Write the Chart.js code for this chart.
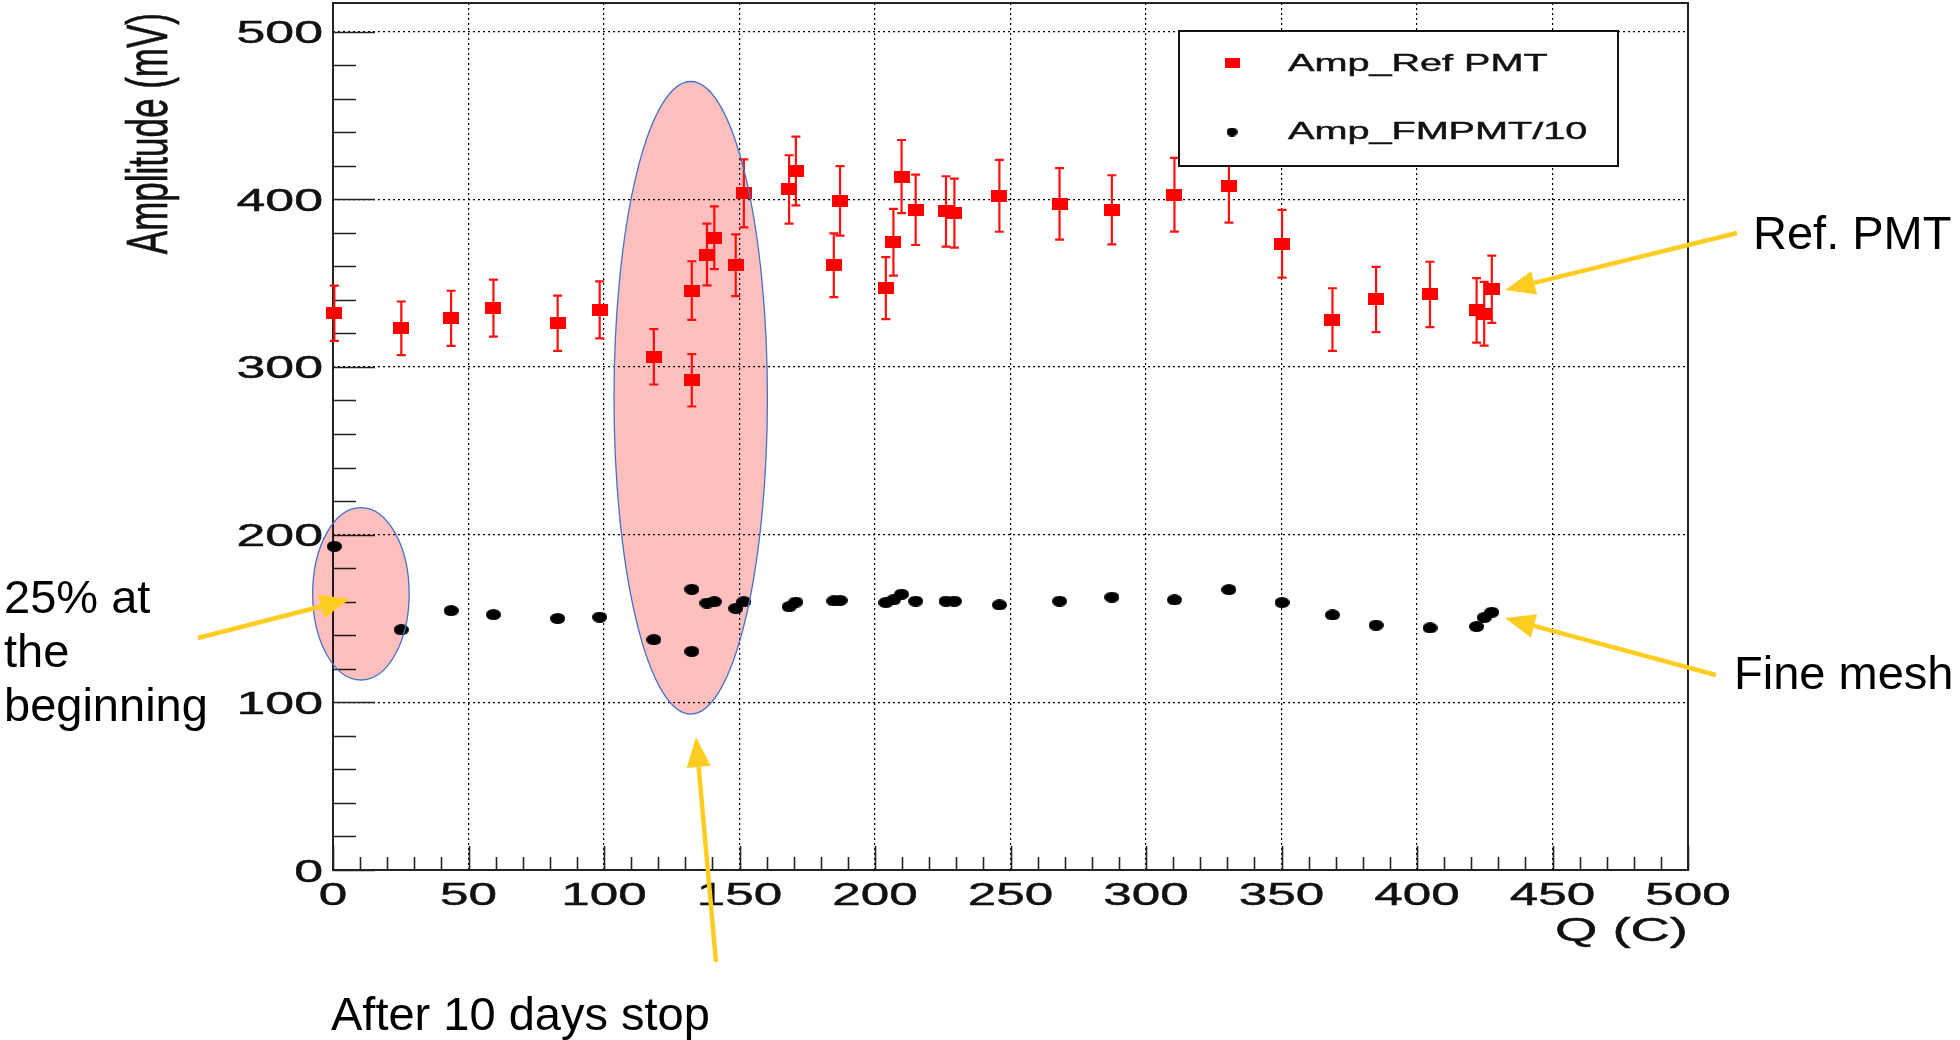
<!DOCTYPE html>
<html>
<head>
<meta charset="utf-8">
<script src="https://cdn.jsdelivr.net/npm/chart.js@4.4.1/dist/chart.umd.min.js"></script>
<style>
  html, body { margin: 0; padding: 0; background: #ffffff; }
  #wrap { width: 1960px; height: 1040px; position: relative; }
</style>
</head>
<body>
<div id="wrap"><canvas id="c" width="1960" height="1040"></canvas></div>
<script>
// ---------------- data ----------------
const charge = [0.5, 25.2, 43.6, 59.2, 82.9, 98.4, 118.4, 132.4, 132.4, 138.0, 140.7, 148.6, 151.6, 168.3, 170.8,
  184.8, 187.1, 204.0, 206.8, 209.8, 215.0, 226.2, 229.3, 245.9, 268.1, 287.4, 310.5, 330.6, 350.2, 368.8,
  384.9, 404.8, 422.0, 424.8, 427.6];
const ampRefPMT = [332, 323, 329, 335, 326, 334, 306, 292, 345.5, 367, 377, 360.6, 403.5, 405.8, 416.8,
  360.6, 399, 347, 374.3, 413.5, 393.7, 392.7, 391.7, 402, 397.2, 393.7, 402.7, 408, 373.4, 328.2,
  340.2, 343.2, 333.7, 331.7, 346.3];
const errRefPMT = [16.5, 16, 16.4, 17, 16.5, 17, 16.5, 15.6, 17.5, 18.4, 18.7, 18.4, 20.3, 20.4, 20.5,
  19, 20.7, 18.5, 19.9, 21.8, 21, 21, 20.6, 21.4, 21.3, 20.6, 22, 22, 20.2, 18.7,
  19.5, 19.5, 19.2, 19, 20];
const ampFMPMT10 = [193, 143.3, 154.7, 152.3, 150, 150.8, 137.4, 130.4, 167.4, 159.2, 160, 156, 160, 157, 159.8,
  160.5, 160.8, 159.5, 161.1, 164.5, 160.3, 160.3, 160.3, 158.1, 160.3, 162.7, 161.1, 167.2, 159.5, 152.1,
  146, 144.4, 145.2, 150.5, 153.7];
const seriesLabels = ['Amp_Ref PMT', 'Amp_FMPMT/10'];
const xTickValues = [0, 50, 100, 150, 200, 250, 300, 350, 400, 450, 500];
const yTickValues = [0, 100, 200, 300, 400, 500];
const xTitle = 'Q (C)';
const yTitle = 'Amplitude (mV)';

// highlighted regions (data coordinates)
const highlightEllipses = [
  { cx: 10.3, cy: 164.7, rx: 17.8, ry: 51.4 },
  { cx: 132.0, cy: 281.6, rx: 28.3, ry: 188.6 }
];
// slide call-outs (page pixels)
const callouts = [
  { lines: ['25% at', 'the', 'beginning'], tx: 4, ty: 613, lh: 54, from: [198, 638], to: [350, 599] },
  { lines: ['After 10 days stop'], tx: 331, ty: 1030, lh: 54, from: [716, 962], to: [696, 737] },
  { lines: ['Ref. PMT'], tx: 1753, ty: 249, lh: 54, from: [1737, 233], to: [1505, 290] },
  { lines: ['Fine mesh'], tx: 1734, ty: 689, lh: 54, from: [1716, 675], to: [1505, 618] }
];

// ---------------- helpers ----------------
const FONT = '"Liberation Sans", Arial, Helvetica, sans-serif';
function makeRect(w, h, color) {
  const c = document.createElement('canvas'); c.width = w; c.height = h;
  const g = c.getContext('2d'); g.fillStyle = color; g.fillRect(0, 0, w, h); return c;
}
function makeEllipse(w, h, color) {
  const c = document.createElement('canvas'); c.width = w; c.height = h;
  const g = c.getContext('2d'); g.fillStyle = color; g.beginPath();
  g.ellipse(w / 2, h / 2, w / 2, h / 2, 0, 0, Math.PI * 2); g.fill(); return c;
}
const redMark = makeRect(16, 12, '#ff0000');
const blackMark = makeEllipse(15, 11, '#000000');
const redLegendMark = makeRect(15, 10, '#ff0000');
const blackLegendMark = makeEllipse(11, 9, '#000000');

function sText(ctx, txt, x, y, size, sx, align, rot) {
  ctx.save();
  ctx.translate(x, y);
  ctx.scale(sx, 1);
  if (rot) ctx.rotate(-Math.PI / 2);
  ctx.font = size + 'px ' + FONT;
  ctx.textAlign = align;
  ctx.textBaseline = 'alphabetic';
  ctx.fillStyle = '#111';
  ctx.strokeStyle = '#111';
  ctx.lineWidth = 0.45;
  ctx.fillText(txt, 0, 0);
  ctx.strokeText(txt, 0, 0);
  ctx.restore();
}
function arrow(ctx, x1, y1, x2, y2) {
  const a = Math.atan2(y2 - y1, x2 - x1), L = 30, W = 12;
  const bx = x2 - L * Math.cos(a), by = y2 - L * Math.sin(a);
  ctx.save();
  ctx.strokeStyle = '#FFCC22'; ctx.fillStyle = '#FFCC22';
  ctx.lineWidth = 4.5; ctx.lineCap = 'butt';
  ctx.beginPath(); ctx.moveTo(x1, y1); ctx.lineTo(bx, by); ctx.stroke();
  ctx.beginPath(); ctx.moveTo(x2, y2);
  ctx.lineTo(bx + W * Math.sin(a), by - W * Math.cos(a));
  ctx.lineTo(bx - W * Math.sin(a), by + W * Math.cos(a));
  ctx.closePath(); ctx.fill();
  ctx.restore();
}

// ---------------- plugin: ROOT-style frame, ticks, labels, overlays ----------------
const decor = {
  id: 'decor',
  beforeDraw(chart) {
    const ctx = chart.ctx;
    ctx.save(); ctx.fillStyle = '#fff'; ctx.fillRect(0, 0, chart.width, chart.height); ctx.restore();
  },
  beforeDatasetsDraw(chart) {
    const ctx = chart.ctx, a = chart.chartArea, xs = chart.scales.x, ys = chart.scales.y;
    ctx.save();
    // inner ticks
    ctx.strokeStyle = '#222'; ctx.lineWidth = 1.6;
    ctx.beginPath();
    for (let v = 0; v <= ys.max + 0.001; v += 20) {
      const py = Math.round(ys.getPixelForValue(v)) + 0.5;
      const len = (v % 100 === 0) ? 42 : 23;
      ctx.moveTo(a.left, py); ctx.lineTo(a.left + len, py);
    }
    for (let v = 0; v <= xs.max + 0.001; v += 10) {
      const px = Math.round(xs.getPixelForValue(v)) + 0.5;
      const len = (v % 50 === 0) ? 24 : 13;
      ctx.moveTo(px, a.bottom); ctx.lineTo(px, a.bottom - len);
    }
    ctx.stroke();
    // frame
    ctx.strokeStyle = '#222'; ctx.lineWidth = 2;
    ctx.strokeRect(a.left, a.top, a.right - a.left, a.bottom - a.top);
    // tick labels
    ys.ticks.forEach(t => {
      const py = ys.getPixelForValue(t.value);
      sText(ctx, String(t.value), 323, py + 11.5, 32, 1.62, 'right');
    });
    xs.ticks.forEach(t => {
      const px = xs.getPixelForValue(t.value);
      sText(ctx, String(t.value), px, 905, 32, 1.6, 'center');
    });
    // axis titles
    sText(ctx, xTitle, a.right, 941, 33, 1.65, 'right');
    sText(ctx, yTitle, 167, 13, 35, 1.65, 'right', true);
    // error bars of the reference PMT
    const meta = chart.getDatasetMeta(0);
    ctx.strokeStyle = '#ff1010'; ctx.lineWidth = 2.2;
    ctx.beginPath();
    meta.data.forEach((pt, i) => {
      const yt = ys.getPixelForValue(ampRefPMT[i] + errRefPMT[i]);
      const yb = ys.getPixelForValue(ampRefPMT[i] - errRefPMT[i]);
      ctx.moveTo(pt.x, yt); ctx.lineTo(pt.x, yb);
      ctx.moveTo(pt.x - 4.5, yt); ctx.lineTo(pt.x + 4.5, yt);
      ctx.moveTo(pt.x - 4.5, yb); ctx.lineTo(pt.x + 4.5, yb);
    });
    ctx.stroke();
    ctx.restore();
  },
  afterDatasetsDraw(chart) {
    const ctx = chart.ctx, xs = chart.scales.x, ys = chart.scales.y;
    ctx.save();
    // highlighted regions
    highlightEllipses.forEach(e => {
      const cx = xs.getPixelForValue(e.cx), cy = ys.getPixelForValue(e.cy);
      const rx = Math.abs(xs.getPixelForValue(e.cx + e.rx) - cx);
      const ry = Math.abs(ys.getPixelForValue(e.cy + e.ry) - cy);
      ctx.beginPath(); ctx.ellipse(cx, cy, rx, ry, 0, 0, Math.PI * 2);
      ctx.globalCompositeOperation = 'multiply';
      ctx.fillStyle = '#FFBFBF'; ctx.fill();
      ctx.globalCompositeOperation = 'source-over';
      ctx.strokeStyle = '#4472C4'; ctx.lineWidth = 1.3; ctx.stroke();
    });
    // legend
    const lx = 1179, ly = 31, lw = 439, lh = 135;
    ctx.fillStyle = '#fff'; ctx.fillRect(lx, ly, lw, lh);
    ctx.strokeStyle = '#111'; ctx.lineWidth = 2; ctx.strokeRect(lx, ly, lw, lh);
    ctx.drawImage(redLegendMark, 1232 - 7.5, 63 - 5);
    ctx.drawImage(blackLegendMark, 1232 - 5.5, 132 - 4.5);
    sText(ctx, seriesLabels[0], 1288, 71, 24, 1.65, 'left');
    sText(ctx, seriesLabels[1], 1288, 139, 24, 1.65, 'left');
    // call-outs
    callouts.forEach(c => {
      ctx.fillStyle = '#000'; ctx.font = '47px ' + FONT;
      ctx.textAlign = 'left'; ctx.textBaseline = 'alphabetic';
      c.lines.forEach((t, i) => ctx.fillText(t, c.tx, c.ty + i * c.lh));
      arrow(ctx, c.from[0], c.from[1], c.to[0], c.to[1]);
    });
    ctx.restore();
  }
};

// ---------------- chart ----------------
new Chart(document.getElementById('c'), {
  type: 'scatter',
  data: {
    datasets: [
      {
        label: seriesLabels[0],
        data: charge.map((q, i) => ({ x: q, y: ampRefPMT[i] })),
        pointStyle: redMark, pointRadius: 7, backgroundColor: '#ff0000', borderColor: '#ff0000',
        clip: false, order: 1
      },
      {
        label: seriesLabels[1],
        data: charge.map((q, i) => ({ x: q, y: ampFMPMT10[i] })),
        pointStyle: blackMark, pointRadius: 6, backgroundColor: '#000', borderColor: '#000',
        clip: false, order: 2
      }
    ]
  },
  options: {
    responsive: false,
    animation: false,
    events: [],
    layout: { autoPadding: false, padding: { top: 3, right: 272, left: 0, bottom: 0 } },
    plugins: { legend: { display: false }, tooltip: { enabled: false } },
    scales: {
      x: {
        type: 'linear', min: 0, max: 500,
        afterBuildTicks: s => { s.ticks = xTickValues.map(v => ({ value: v })); },
        afterFit: s => { s.height = 170; },
        ticks: { display: false },
        grid: { display: true, color: '#000', lineWidth: 1.2, drawTicks: false },
        border: { display: false, dash: [2, 3] },
        title: { display: false }
      },
      y: {
        type: 'linear', min: 0, max: 517,
        afterBuildTicks: s => { s.ticks = yTickValues.map(v => ({ value: v })); },
        afterFit: s => { s.width = 333; },
        ticks: { display: false },
        grid: { display: true, color: '#000', lineWidth: 1.2, drawTicks: false },
        border: { display: false, dash: [2, 3] },
        title: { display: false }
      }
    }
  },
  plugins: [decor]
});
</script>
</body>
</html>
